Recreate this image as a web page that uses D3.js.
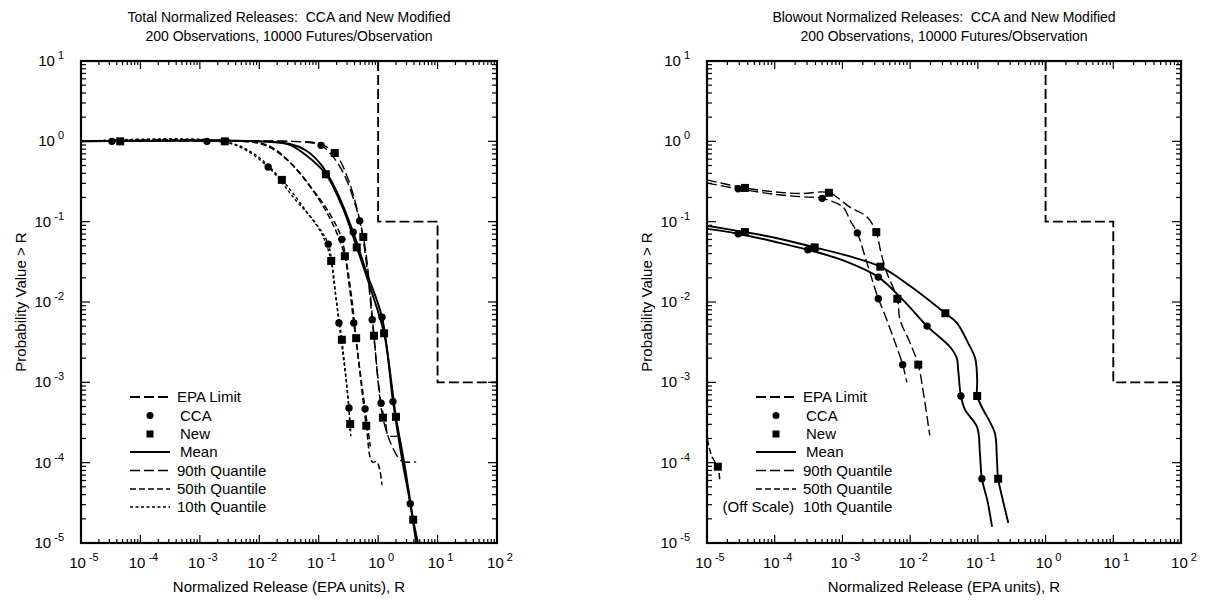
<!DOCTYPE html>
<html><head><meta charset="utf-8">
<script src="https://cdn.jsdelivr.net/npm/d3@7"></script>
<style>
body{margin:0;background:#fff;}
svg text{font-family:"Liberation Sans",Arial,Helvetica,sans-serif;fill:#000;white-space:pre;}
</style></head><body>
<svg id="chart" width="1211" height="604"></svg>
<script>
// ---------- tick labels ----------
const xTickExponents = [-5,-4,-3,-2,-1,0,1,2];
const yTickExponents = [1,0,-1,-2,-3,-4,-5];

// ---------- EPA limit (R, P) ----------
const epaR = [1, 1, 10, 10, 100];
const epaP = [10, 0.1, 0.1, 0.001, 0.001];

// ---------- Total releases (left): [log10 R, log10 P] ----------
const totalMeanCCA = [[-5,0],[-2,0],[-1.5,-0.03],[-1.2,-0.12],[-0.95,-0.3],[-0.7,-0.62],[-0.42,-1.13],[-0.2,-1.62],[0.065,-2.19],[0.25,-3.24],[0.4,-3.95],[0.54,-4.51],[0.64,-5]];
const totalMeanCCAMarks = [[-2.88,0],[-0.42,-1.13],[0.065,-2.19],[0.25,-3.24],[0.54,-4.51]];
const totalMeanNew = [[-5,0],[-2,0],[-1.5,-0.04],[-1.2,-0.18],[-0.88,-0.41],[-0.6,-0.82],[-0.36,-1.32],[-0.12,-1.85],[0.10,-2.39],[0.30,-3.43],[0.45,-4.05],[0.59,-4.71],[0.67,-5]];
const totalMeanNewMarks = [[-2.58,0],[-0.88,-0.41],[-0.36,-1.32],[0.10,-2.39],[0.30,-3.43],[0.59,-4.71]];
const total90CCA = [[-5,0],[-1.6,0],[-1.2,-0.01],[-0.96,-0.05],[-0.75,-0.2],[-0.55,-0.45],[-0.31,-0.99],[-0.2,-1.5],[-0.10,-2.22],[0.05,-3.26],[0.13,-3.53],[0.17,-3.66],[0.32,-3.67]];
const total90CCAMarks = [[-0.96,-0.05],[-0.31,-0.99],[-0.10,-2.22],[0.05,-3.26]];
const total90New = [[-5,0],[-1.5,0],[-1.0,-0.03],[-0.73,-0.145],[-0.5,-0.48],[-0.25,-1.19],[-0.15,-1.75],[-0.07,-2.42],[0.08,-3.44],[0.25,-3.82],[0.40,-3.98],[0.64,-3.99]];
const total90NewMarks = [[-0.73,-0.145],[-0.25,-1.19],[-0.07,-2.42],[0.08,-3.44]];
const total50CCA = [[-5,0],[-2.3,0],[-1.9,-0.05],[-1.5,-0.25],[-1.1,-0.6],[-0.8,-0.92],[-0.61,-1.22],[-0.5,-1.72],[-0.41,-2.26],[-0.22,-3.33],[-0.13,-3.8]];
const total50CCAMarks = [[-4.48,0],[-0.61,-1.22],[-0.41,-2.26],[-0.22,-3.33]];
const total50New = [[-5,0],[-2.2,0],[-1.8,-0.07],[-1.4,-0.33],[-1.0,-0.72],[-0.75,-1.05],[-0.56,-1.43],[-0.45,-1.92],[-0.37,-2.45],[-0.20,-3.54],[-0.10,-3.99],[-0.02,-3.99],[0.065,-4.28]];
const total50NewMarks = [[-4.34,0],[-0.56,-1.43],[-0.37,-2.45],[-0.20,-3.54]];
const total10CCA = [[-5,0],[-2.7,0],[-2.3,-0.08],[-1.85,-0.32],[-1.4,-0.72],[-1.05,-1.02],[-0.84,-1.28],[-0.75,-1.72],[-0.66,-2.26],[-0.49,-3.32],[-0.48,-3.6]];
const total10CCAMarks = [[-1.85,-0.32],[-0.84,-1.28],[-0.66,-2.26],[-0.49,-3.32]];
const total10New = [[-5,0],[-2.6,0],[-2.1,-0.15],[-1.62,-0.48],[-1.2,-0.88],[-0.95,-1.15],[-0.79,-1.49],[-0.7,-2.0],[-0.61,-2.47],[-0.47,-3.52],[-0.46,-3.67]];
const total10NewMarks = [[-1.62,-0.48],[-0.79,-1.49],[-0.61,-2.47],[-0.47,-3.52]];

// ---------- Blowout releases (right): [log10 R, log10 P] ----------
const blowMeanCCA = [[-5,-1.09],[-4.54,-1.15],[-4.0,-1.25],[-3.51,-1.35],[-3.0,-1.48],[-2.47,-1.69],[-2.1,-1.98],[-1.75,-2.30],[-1.41,-2.56],[-1.31,-2.70],[-1.29,-2.85],[-1.25,-3.17],[-1.19,-3.34],[-1.01,-3.56],[-0.97,-3.88],[-0.94,-4.20],[-0.86,-4.47],[-0.79,-4.80]];
const blowMeanCCAMarks = [[-4.54,-1.15],[-3.51,-1.35],[-2.47,-1.69],[-1.75,-2.30],[-1.25,-3.17],[-0.94,-4.20]];
const blowMeanNew = [[-5,-1.05],[-4.44,-1.13],[-4.0,-1.2],[-3.41,-1.32],[-2.9,-1.43],[-2.44,-1.56],[-2.0,-1.80],[-1.48,-2.14],[-1.31,-2.26],[-1.15,-2.50],[-1.04,-2.70],[-1.01,-2.97],[-1.01,-3.17],[-0.94,-3.31],[-0.75,-3.63],[-0.72,-3.93],[-0.70,-4.20],[-0.63,-4.47],[-0.55,-4.75]];
const blowMeanNewMarks = [[-4.44,-1.13],[-3.41,-1.32],[-2.44,-1.56],[-1.48,-2.14],[-1.01,-3.17],[-0.70,-4.20]];
const blow90CCA = [[-5,-0.52],[-4.54,-0.59],[-4.0,-0.66],[-3.6,-0.69],[-3.30,-0.71],[-2.99,-0.82],[-2.89,-0.98],[-2.78,-1.14],[-2.65,-1.48],[-2.47,-1.96],[-2.40,-2.10],[-2.25,-2.44],[-2.11,-2.78],[-2.05,-3.0]];
const blow90CCAMarks = [[-4.54,-0.59],[-3.30,-0.71],[-2.78,-1.14],[-2.47,-1.96],[-2.11,-2.78]];
const blow90New = [[-5,-0.48],[-4.44,-0.58],[-4.0,-0.63],[-3.6,-0.65],[-3.20,-0.64],[-2.89,-0.82],[-2.64,-0.94],[-2.50,-1.13],[-2.44,-1.35],[-2.36,-1.60],[-2.19,-1.96],[-2.15,-2.22],[-2.0,-2.51],[-1.88,-2.78],[-1.81,-3.10],[-1.71,-3.66]];
const blow90NewMarks = [[-4.44,-0.58],[-3.20,-0.64],[-2.50,-1.13],[-2.19,-1.96],[-1.88,-2.78]];
const blow50New = [[-5.02,-3.6],[-4.93,-3.92],[-4.84,-4.05],[-4.81,-4.24]];
const blow50NewMarks = [[-4.84,-4.05]];

// ---------- legend ----------
const legendLabels = ["EPA Limit","CCA","New","Mean","90th Quantile","50th Quantile","10th Quantile"];

const styles = {
  epa:  {dash:"10,4", w:1.9},
  mean: {dash:null,   w:1.9},
  q90:  {dash:"10,4", w:1.4},
  q50:  {dash:"6,3",  w:1.5},
  q10:  {dash:"3,2.5",w:1.4}
};

const panels = [
  {x0:81, x1:497, title1:"Total Normalized Releases:  CCA and New Modified",
   series:[
    {d:totalMeanCCA,m:totalMeanCCAMarks,s:"mean",sym:"c"},
    {d:totalMeanNew,m:totalMeanNewMarks,s:"mean",sym:"s"},
    {d:total90CCA,m:total90CCAMarks,s:"q90",sym:"c"},
    {d:total90New,m:total90NewMarks,s:"q90",sym:"s"},
    {d:total50CCA,m:total50CCAMarks,s:"q50",sym:"c"},
    {d:total50New,m:total50NewMarks,s:"q50",sym:"s"},
    {d:total10CCA,m:total10CCAMarks,s:"q10",sym:"c"},
    {d:total10New,m:total10NewMarks,s:"q10",sym:"s"}], offScale:false},
  {x0:707, x1:1181, title1:"Blowout Normalized Releases:  CCA and New Modified",
   series:[
    {d:blowMeanCCA,m:blowMeanCCAMarks,s:"mean",sym:"c"},
    {d:blowMeanNew,m:blowMeanNewMarks,s:"mean",sym:"s"},
    {d:blow90CCA,m:blow90CCAMarks,s:"q90",sym:"c"},
    {d:blow90New,m:blow90NewMarks,s:"q90",sym:"s"},
    {d:blow50New,m:blow50NewMarks,s:"q50",sym:"s"}], offScale:true}
];
const title2 = "200 Observations, 10000 Futures/Observation";
const y0 = 61, y1 = 543;

const svg = d3.select("#chart");
svg.append("rect").attr("width",1211).attr("height",604).attr("fill","#fff");

panels.forEach((p,pi)=>{
  const x = d3.scaleLog().domain([1e-5,1e2]).range([p.x0,p.x1]);
  const y = d3.scaleLog().domain([1e-5,1e1]).range([y1,y0]);
  const g = svg.append("g");
  const cx = (p.x0+p.x1)/2;

  // titles
  g.append("text").attr("x",cx).attr("y",22).attr("text-anchor","middle").attr("font-size",14).text(p.title1);
  g.append("text").attr("x",cx).attr("y",41).attr("text-anchor","middle").attr("font-size",14).text(title2);

  // clip
  const cid = "clip"+pi;
  svg.append("clipPath").attr("id",cid).append("rect")
    .attr("x",p.x0).attr("y",y0).attr("width",p.x1-p.x0).attr("height",y1-y0);
  const plot = g.append("g").attr("clip-path",`url(#${cid})`);

  // EPA limit
  const epaLine = d3.line().x((d,i)=>x(epaR[i])).y((d,i)=>y(epaP[i]));
  plot.append("path").attr("d",epaLine(epaR)).attr("fill","none").attr("stroke","#000")
    .attr("stroke-width",styles.epa.w).attr("stroke-dasharray",styles.epa.dash);

  const line = d3.line().x(d=>x(Math.pow(10,d[0]))).y(d=>y(Math.pow(10,d[1]))).curve(d3.curveCatmullRom.alpha(0.5));
  p.series.forEach(s=>{
    const st = styles[s.s];
    plot.append("path").attr("d",line(s.d)).attr("fill","none").attr("stroke","#000")
      .attr("stroke-width",st.w).attr("stroke-dasharray",st.dash);
  });
  p.series.forEach(s=>{
    s.m.forEach(d=>{
      const px = x(Math.pow(10,d[0])), py = y(Math.pow(10,d[1]));
      if (s.sym==="c") plot.append("circle").attr("cx",px).attr("cy",py).attr("r",3.7).attr("fill","#000");
      else plot.append("rect").attr("x",px-4).attr("y",py-4).attr("width",8).attr("height",8).attr("fill","#000");
    });
  });

  // ticks
  const ax = g.append("g").attr("stroke","#000").attr("stroke-width",1.2);
  x.ticks().forEach(t=>{
    const major = Math.abs(Math.log10(t)-Math.round(Math.log10(t)))<1e-6;
    const L = major?8:4, xx = x(t);
    ax.append("line").attr("x1",xx).attr("x2",xx).attr("y1",y1).attr("y2",y1-L);
    ax.append("line").attr("x1",xx).attr("x2",xx).attr("y1",y0).attr("y2",y0+L);
  });
  y.ticks().forEach(t=>{
    const major = Math.abs(Math.log10(t)-Math.round(Math.log10(t)))<1e-6;
    const L = major?9:5, yy = y(t);
    ax.append("line").attr("y1",yy).attr("y2",yy).attr("x1",p.x0).attr("x2",p.x0+L);
    ax.append("line").attr("y1",yy).attr("y2",yy).attr("x1",p.x1).attr("x2",p.x1-L);
  });
  // frame
  g.append("rect").attr("x",p.x0).attr("y",y0).attr("width",p.x1-p.x0).attr("height",y1-y0)
    .attr("fill","none").attr("stroke","#000").attr("stroke-width",2.2);

  // tick labels
  xTickExponents.forEach(e=>{
    const t = g.append("text").attr("x",x(Math.pow(10,e))+3).attr("y",y1+25).attr("text-anchor","middle").attr("font-size",15);
    t.append("tspan").text("10");
    t.append("tspan").attr("dy",-7).attr("dx",3).attr("font-size",11).text(e);
  });
  yTickExponents.forEach(e=>{
    const t = g.append("text").attr("x",p.x0-17).attr("y",y(Math.pow(10,e))+5).attr("text-anchor","end").attr("font-size",15);
    t.append("tspan").text("10");
    t.append("tspan").attr("dy",-7).attr("dx",3).attr("font-size",11).text(e);
  });

  // axis titles
  g.append("text").attr("x",cx).attr("y",592).attr("text-anchor","middle").attr("font-size",15)
    .text("Normalized Release (EPA units), R");
  g.append("text").attr("transform",`translate(${p.x0-55},${(y0+y1)/2}) rotate(-90)`)
    .attr("text-anchor","middle").attr("font-size",15).text("Probability Value > R");

  // legend
  const lx0 = p.x0+49, lx1 = p.x0+89, tx = p.x0+99;
  const rows = [397,415.5,434,452,470.5,489,507];
  const lg = g.append("g");
  const legStyles = ["epa",null,null,"mean","q90","q50","q10"];
  legendLabels.forEach((lab,i)=>{
    const yy = rows[i];
    if (i===1) lg.append("circle").attr("cx",(lx0+lx1)/2).attr("cy",yy).attr("r",3.5).attr("fill","#000");
    else if (i===2) lg.append("rect").attr("x",(lx0+lx1)/2-3.5).attr("y",yy-3.5).attr("width",7).attr("height",7).attr("fill","#000");
    else if (!(p.offScale && i===6)) {
      const st = styles[legStyles[i]];
      lg.append("line").attr("x1",lx0).attr("x2",lx1).attr("y1",yy).attr("y2",yy)
        .attr("stroke","#000").attr("stroke-width",st.w).attr("stroke-dasharray",st.dash);
    }
    lg.append("text").attr("x",(i===0||i>=4)?tx-3:tx).attr("y",yy+5).attr("font-size",15).text(lab);
  });
  if (p.offScale) {
    lg.append("text").attr("x",lx1-2).attr("y",rows[6]+5).attr("text-anchor","end").attr("font-size",15).text("(Off Scale)");
  }
});
</script>
</body></html>
